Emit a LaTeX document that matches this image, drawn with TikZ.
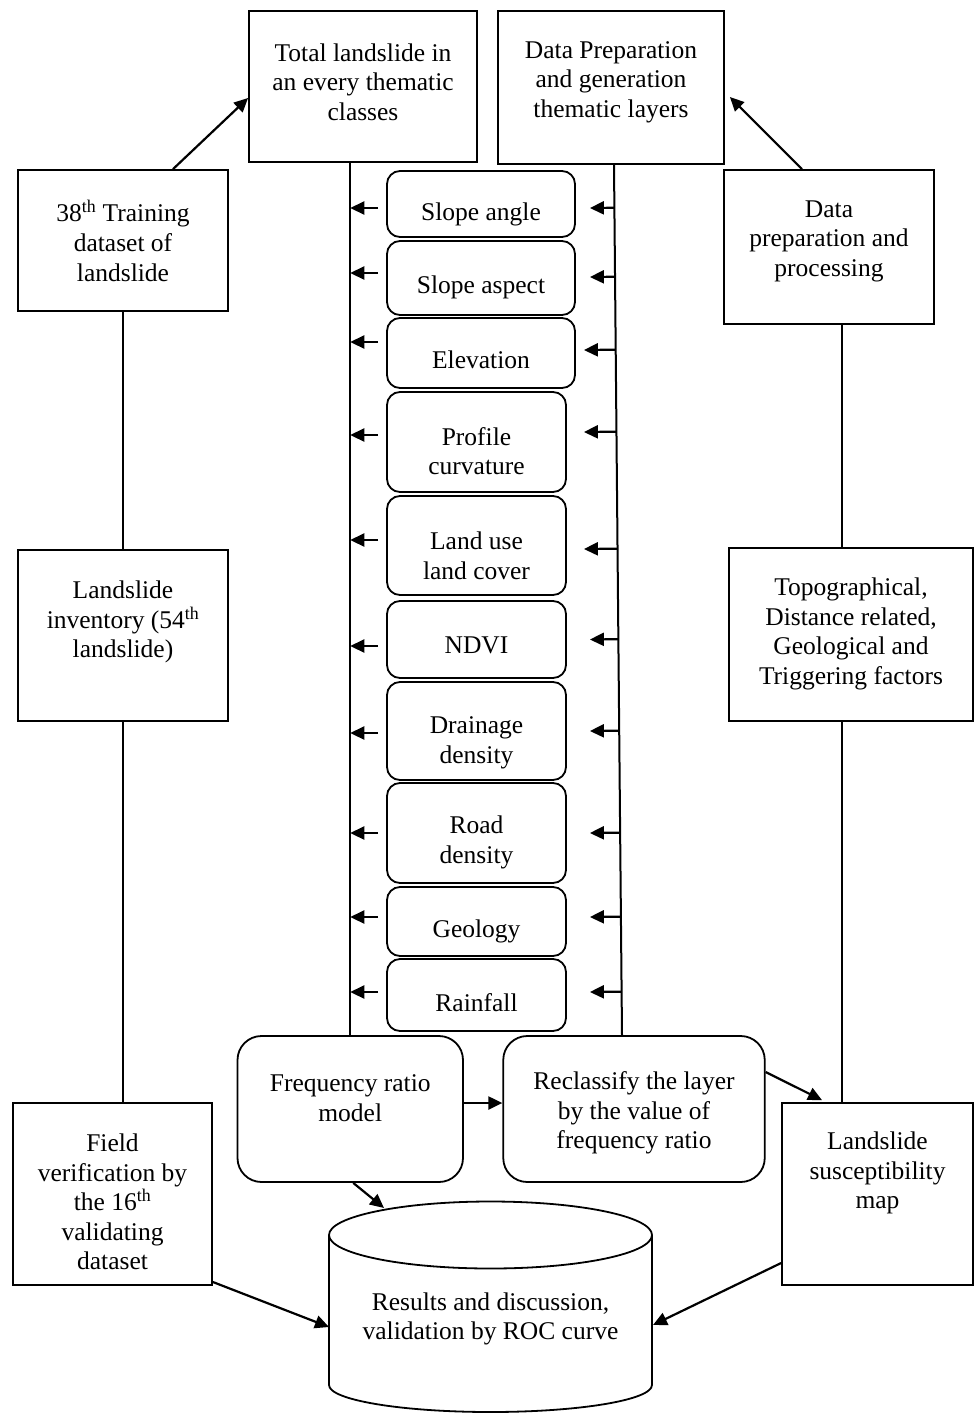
\documentclass[tikz,border=0pt]{standalone}
\usepackage{fontspec}
\setmainfont{Liberation Serif}
\usetikzlibrary{arrows.meta,calc}
\begin{document}
\begin{tikzpicture}[x=1pt,y=-1pt,line width=2pt,
  box/.style={draw,line width=1.8pt,inner sep=0pt},
  rbox/.style={draw,line width=1.8pt,rounded corners=13pt,inner sep=0pt},
  bbox/.style={draw,line width=1.8pt,rounded corners=24pt,inner sep=0pt},
  txt/.style={align=center,inner sep=0pt,font=\fontsize{25.5}{29.6}\selectfont},
  arr/.style={-{Triangle[length=14pt,width=13pt]},line width=2.2pt}]
\useasboundingbox (0,0) rectangle (974,1414);

% top boxes
\node[box,minimum width=228pt,minimum height=151pt] (tl) at (363,86.5) {};
\node[txt] (tlt) at (363,82) {Total landslide in\\an every thematic\\classes};
\node[box,minimum width=226pt,minimum height=153pt] (dp) at (611,87.5) {};
\node[txt] (dpt) at (611,82) {Data Preparation\\and generation\\thematic layers};
\node[box,minimum width=210pt,minimum height=141pt] (tr) at (123,240.5) {};
\node[txt] (trt) at (123,241) {38\textsuperscript{th} Training\\dataset of\\landslide};
\node[box,minimum width=210pt,minimum height=154pt] (pp) at (829,247) {};
\node[txt] (ppt) at (829,241) {Data\\preparation and\\processing};

% side boxes
\node[box,minimum width=210pt,minimum height=171pt] (inv) at (123,635.5) {};
\node[txt] (invt) at (123,622) {Landslide\\inventory (54\textsuperscript{th}\\landslide)};
\node[box,minimum width=244pt,minimum height=173pt] (topo) at (851,634.5) {};
\node[txt] (topot) at (851,634) {Topographical,\\Distance related,\\Geological and\\Triggering factors};
\node[box,minimum width=199pt,minimum height=182pt] (fv) at (112.5,1194) {};
\node[txt] (fvt) at (112.5,1202) {Field\\verification by\\the 16\textsuperscript{th}\\validating\\dataset};
\node[box,minimum width=191pt,minimum height=182pt] (lsm) at (877.5,1194) {};
\node[txt] (lsmt) at (877.5,1173) {Landslide\\susceptibility\\map};

% middle factor boxes
\node[rbox,minimum width=188pt,minimum height=66pt] (sa) at (481,204) {};
\node[txt] (sat) at (481,214) {Slope angle};
\node[rbox,minimum width=188pt,minimum height=74pt] (sasp) at (481,278) {};
\node[txt] (saspt) at (481,287) {Slope aspect};
\node[rbox,minimum width=188pt,minimum height=70pt] (el) at (481,353) {};
\node[txt] (elt) at (481,360) {Elevation};
\node[rbox,minimum width=179pt,minimum height=100pt] (pc) at (476.5,442) {};
\node[txt] (pct) at (476.5,451) {Profile\\curvature};
\node[rbox,minimum width=179pt,minimum height=99pt] (lu) at (476.5,545.5) {};
\node[txt] (lut) at (476.5,556) {Land use\\land cover};
\node[rbox,minimum width=179pt,minimum height=77pt] (ndvi) at (476.5,639.5) {};
\node[txt] (ndvit) at (476.5,645) {NDVI};
\node[rbox,minimum width=179pt,minimum height=98pt] (dd) at (476.5,731) {};
\node[txt] (ddt) at (476.5,743) {Drainage\\density};
\node[rbox,minimum width=179pt,minimum height=100pt] (rd) at (476.5,833) {};
\node[txt] (rdt) at (476.5,842.5) {Road\\density};
\node[rbox,minimum width=179pt,minimum height=69pt] (geo) at (476.5,921.5) {};
\node[txt] (geot) at (476.5,931) {Geology};
\node[rbox,minimum width=179pt,minimum height=72pt] (rf) at (476.5,995) {};
\node[txt] (rft) at (476.5,1003) {Rainfall};

% bottom boxes
\node[bbox,minimum width=225.5pt,minimum height=146pt] (fr) at (350.25,1109) {};
\node[txt] (frt) at (350.25,1098) {Frequency ratio\\model};
\node[bbox,minimum width=261.5pt,minimum height=146pt] (rc) at (634,1109) {};
\node[txt] (rct) at (634,1113) {Reclassify the layer\\by the value of\\frequency ratio};

% cylinder
\draw[line width=1.8pt] (329,1235) -- (329,1385) arc[start angle=180,end angle=360,x radius=161.5pt,y radius=27pt] -- (652,1235);
\draw[line width=1.8pt] (490.5,1235) ellipse[x radius=161.5pt,y radius=33.5pt];
\node[txt] (cyl) at (490.5,1319) {Results and discussion,\\validation by ROC curve};
\coordinate (cylT) at (384,1208);
\coordinate (cylL) at (329,1327);
\coordinate (cylR) at (653,1325);

% vertical lines
\draw (tl.south -| fr.north) -- (fr.north);
\coordinate (R1) at ($(dp.south)+(3,0)$);
\coordinate (R2) at ($(rc.north)+(-12,0)$);
\draw (R1) -- (R2);
\draw (tr.south) -- (tr.south |- inv.north);
\draw (inv.south) -- (inv.south |- fv.north);
\coordinate (P1) at ($(pp.south)+(13,0)$);
\draw (P1) -- (P1 |- topo.north);
\draw (P1 |- topo.south) -- (P1 |- lsm.north);

% factor arrows
\foreach \n/\ly/\ry/\rx in {sa/4/4/14, sasp/-5/-1/14, el/-11/-3/8, pc/-7/-10/17, lu/-5.5/3.5/17, ndvi/6.5/0/23, dd/2/0/23, rd/0/0/23, geo/-4.5/-4.5/23, rf/-3/-3/23}{
  \draw[arr] ($(\n.west)+(-8,\ly)$) coordinate (a) -- (a -| fr.north);
  \coordinate (b) at ($(\n.east)+(\rx,\ry)$);
  \draw[arr] ($(R1)!(b)!(R2)$) -- (b);
}

% other arrows
\draw[arr] ($(tr.north)+(50,0)$) -- ($(tl.west)+(0,11.5)$);
\draw[arr] ($(pp.north)+(-27,0)$) -- ($(dp.east)+(5,9.5)$);
\draw[arr] ($(fr.east)+(0,-6)$) -- ($(rc.west)+(0,-6)$);
\draw[arr] ($(rc.east)+(0,-37)$) -- ($(lsm.north)+(-55.5,-2)$);
\draw[arr] ($(fr.south)+(3,0)$) -- (cylT);
\draw[arr] ($(fv.east)+(0,88)$) -- (cylL);
\draw[arr] ($(lsm.west)+(0,69)$) -- (cylR);
\end{tikzpicture}
\end{document}
